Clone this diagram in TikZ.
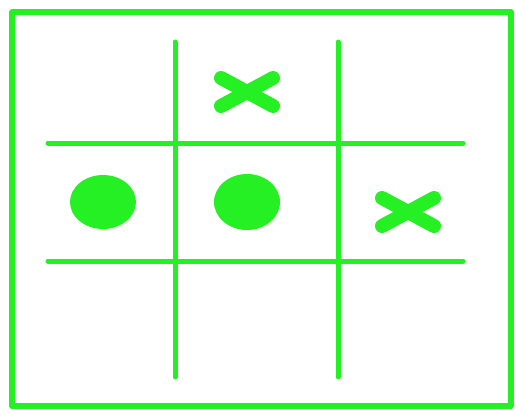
\documentclass[tikz,border=0pt]{standalone}
\usepackage{tikz}

\definecolor{boardgreen}{RGB}{36,240,36}

\begin{document}
\begin{tikzpicture}[
			x=0.03cm,
			y=-0.03cm,
			line cap=round,
			line join=round,
			frameline/.style={draw=boardgreen, line width=0.17cm, line cap=rect},
			gridline/.style={draw=boardgreen, line width=0.15cm},
			markO/.style={fill=boardgreen},
			markX/.style={draw=boardgreen, line width=0.42cm}
			]
			\useasboundingbox (0,0) rectangle (516,409);
			
			% frame
			\draw[frameline] (12,12) rectangle (511,406);
			
			% grid
			\draw[gridline] (175,42) -- (175,377);
			\draw[gridline] (338,42) -- (338,377);
			\draw[gridline] (48,143) -- (463,143);
			\draw[gridline] (48,261) -- (463,261);
			
			% noughts
			\fill[markO] (103,202) ellipse [x radius=33, y radius=27];
			\fill[markO] (247,202) ellipse [x radius=33, y radius=28];
			
			% crosses
			\draw[markX] (221,78) -- (273,106) (221,106) -- (273,78);
			\draw[markX] (382,198) -- (434,226) (382,226) -- (434,198);
		\end{tikzpicture}
\end{document}
